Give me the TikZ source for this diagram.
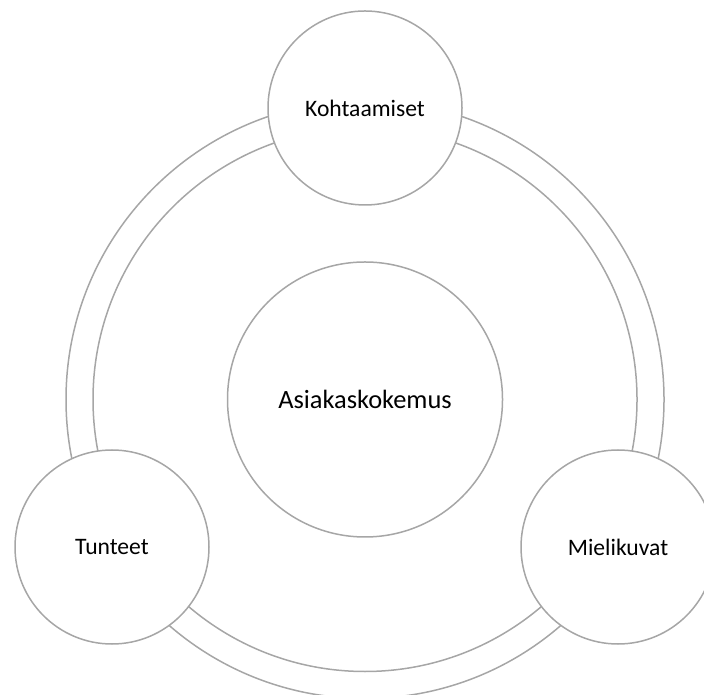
\documentclass[tikz,border=0pt]{standalone}
\usepackage{fontspec}
\setmainfont{Carlito}
\usepackage{tikz}

\definecolor{ringgray}{RGB}{166,166,166}
\tikzset{
  ringline/.style={draw=ringgray, line width=0.75pt},
  part/.style={circle, draw=ringgray, line width=0.75pt, fill=white, inner sep=0pt,
    minimum size=97pt, font=\fontsize{11.8}{14}\selectfont},
  core/.style={part, minimum size=137.5pt, font=\fontsize{13.2}{16}\selectfont}
}

\begin{document}
\begin{tikzpicture}[x=0.5pt,y=0.5pt]
                    \clip (0,0) rectangle (704,694);
                    \coordinate (mid) at (365,294.5);
                    \draw[ringline] (mid) circle (149.5pt);
                    \draw[ringline] (mid) circle (136pt);
                    \node[core] (kokemus) at (mid) {Asiakaskokemus};
                    \node[part] (kohtaamiset) at (365,586) {Kohtaamiset};
                    \node[part] (tunteet) at (112,147) {Tunteet};
                    \node[part] (mielikuvat) at (618,147) {Mielikuvat};
                \end{tikzpicture}
\end{document}
